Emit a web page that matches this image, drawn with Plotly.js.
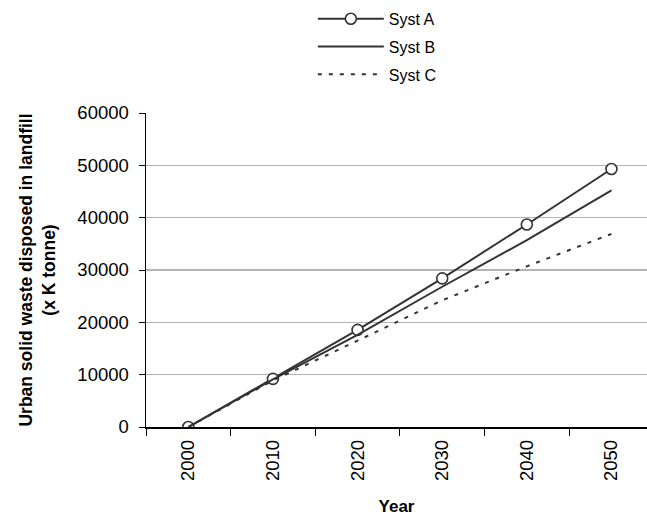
<!DOCTYPE html>
<html>
<head>
<meta charset="utf-8">
<script src="https://cdn.plot.ly/plotly-3.0.1.min.js"></script>
<style>html,body{margin:0;padding:0;background:#fff;}#chart{width:647px;height:516px;}</style>
</head>
<body>
<div id="chart"></div>
<script>
const years = ["2000", "2010", "2020", "2030", "2040", "2050"];
const systA = [0, 9200, 18550, 28400, 38700, 49300];
const systB = [0, 9100, 17600, 26800, 35700, 45200];
const systC = [0, 8900, 16500, 24200, 30700, 36900];
const seriesNames = ["Syst A", "Syst B", "Syst C"];
const yTicks = [0, 10000, 20000, 30000, 40000, 50000, 60000];

const lineColor = "#333333";
const FONT = "Liberation Sans, Arial, sans-serif";

const traces = [
  {
    x: years, y: systA, name: seriesNames[0], type: "scatter", mode: "lines+markers",
    line: {color: lineColor, width: 2},
    marker: {symbol: "circle", size: 11, color: "#ffffff", line: {color: lineColor, width: 1.6}},
    legendgroup: "a"
  },
  {
    x: years, y: systB, name: seriesNames[1], type: "scatter", mode: "lines",
    line: {color: lineColor, width: 2},
    legendgroup: "b"
  },
  {
    x: years, y: systC, name: seriesNames[2], type: "scatter", mode: "lines",
    line: {color: lineColor, width: 2, dash: "4px,7px"},
    legendgroup: "c"
  }
];

const layout = {
  width: 647, height: 516,
  margin: {l: 146, r: 0, t: 113, b: 89, pad: 0},
  paper_bgcolor: "#ffffff", plot_bgcolor: "#ffffff",
  font: {family: FONT, color: "#000000", size: 18},
  showlegend: true,
  legend: {
    x: 0.333, xanchor: "left", y: 1.354, yanchor: "top",
    font: {family: FONT, size: 16, color: "#000"},
    itemwidth: 66, tracegroupgap: 4, traceorder: "grouped",
    bgcolor: "rgba(0,0,0,0)"
  },
  xaxis: {
    type: "category", categoryorder: "array", categoryarray: years,
    range: [-0.5, 5.42],
    tickson: "boundaries", ticks: "outside", ticklen: 7, tickwidth: 1, tickcolor: "#000",
    showline: true, linecolor: "#000", linewidth: 1.5,
    showgrid: false, zeroline: false,
    tickangle: -90, tickfont: {family: FONT, size: 18.5}, ticklabelstandoff: 4,
    title: {text: "<b>Year</b>", font: {family: FONT, size: 17}, standoff: 21}
  },
  yaxis: {
    range: [0, 60000], tickvals: yTicks, ticktext: yTicks.map(String),
    ticks: "outside", ticklen: 6, tickwidth: 1, tickcolor: "#000",
    showline: true, linecolor: "#000", linewidth: 1.5,
    showgrid: true, gridcolor: "#b4b4b4", gridwidth: 1.5,
    zeroline: false,
    tickfont: {family: FONT, size: 18.5}, ticklabelstandoff: 6,
    title: {text: "<b>Urban solid waste disposed in landfill<br>(x K tonne)</b>", font: {family: FONT, size: 17.5}, standoff: 17}
  }
};

Plotly.newPlot("chart", traces, layout, {displayModeBar: false, staticPlot: true});
</script>
</body>
</html>
